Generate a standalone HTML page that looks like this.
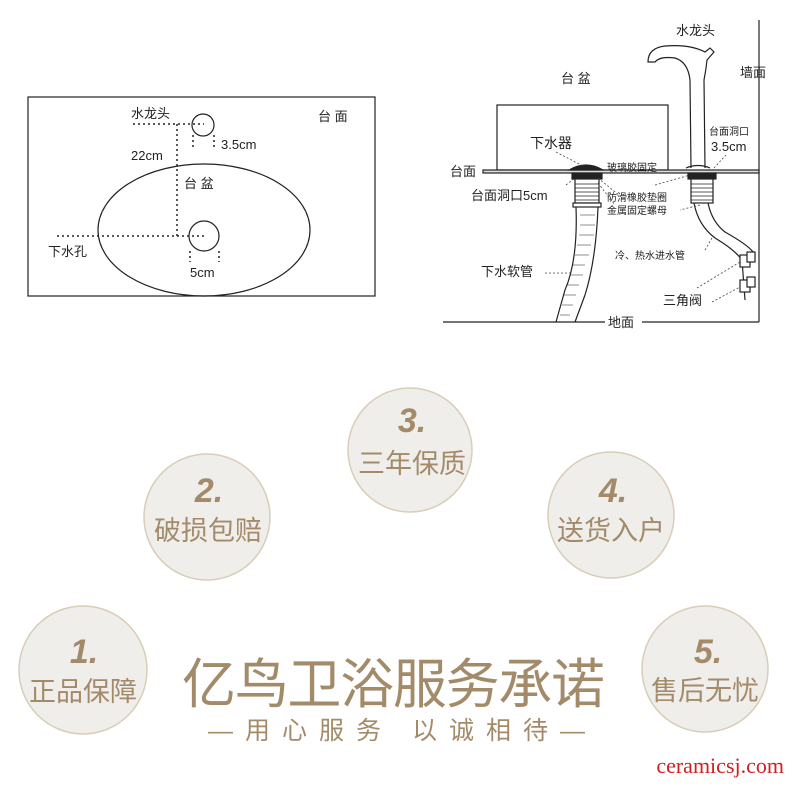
<!DOCTYPE html>
<html><head><meta charset="utf-8"><style>
body{margin:0;background:#fff;}
svg text{font-family:"Liberation Sans","Noto Sans CJK SC",sans-serif;}
</style></head><body>
<svg width="790" height="783" viewBox="0 0 790 783" xmlns="http://www.w3.org/2000/svg">
<!-- left diagram -->
<g fill="none" stroke="#222" stroke-width="1.2">
<rect x="28" y="97" width="347" height="199"/>
<ellipse cx="204" cy="230" rx="106" ry="66"/>
<circle cx="203" cy="125" r="11"/>
<circle cx="204" cy="236" r="15"/>
</g>
<g fill="none" stroke="#222" stroke-width="1.5" stroke-dasharray="2,3">
<line x1="133" y1="124" x2="204" y2="124"/>
<line x1="177" y1="124" x2="177" y2="236"/>
<line x1="57" y1="236" x2="206" y2="236"/>
<line x1="193" y1="135" x2="193" y2="150"/>
<line x1="214" y1="135" x2="214" y2="150"/>
<line x1="190" y1="251" x2="190" y2="262"/>
<line x1="219" y1="251" x2="219" y2="262"/>
</g>
<g font-size="13" fill="#222">
<text x="131" y="118">水龙头</text>
<text x="221" y="149">3.5cm</text>
<text x="131" y="160">22cm</text>
<text x="184" y="188">台 盆</text>
<text x="318" y="121">台 面</text>
<text x="48" y="256">下水孔</text>
<text x="190" y="277">5cm</text>
</g>
<!-- right diagram -->
<g stroke="#222" fill="none" stroke-width="1.2">
<line x1="759" y1="20" x2="759" y2="322"/>
<line x1="443" y1="322" x2="605" y2="322"/>
<line x1="642" y1="322" x2="759" y2="322"/>
<rect x="497" y="105" width="171" height="65"/>
<rect x="483" y="170" width="276" height="3" fill="#ddd"/>
<path d="M569 170 Q586 160 603 170 Z" fill="#222"/>
<rect x="572" y="173" width="30" height="6" fill="#222"/>
<rect x="575" y="179" width="24" height="24" fill="#fff"/>
<path d="M575 184h24M575 188h24M575 192h24M575 196h24M575 200h24" stroke-width="0.7"/>
<rect x="573" y="203" width="28" height="4" fill="#fff"/>
<path d="M576 207 Q578 260 565 290 L556 322 M598 207 Q596 260 585 295 L575 322" />
<path d="M580 215h15M580 225h15M579 235h15M577 245h14M575 255h14M572 265h13M570 275h13M567 285h12M564 295h12M562 305h11M560 315h10" stroke-width="0.5"/>
<path d="M691 168 L690 80 Q688 62 675 58 Q660 56 655 62 L648 62 Q648 48 665 46 Q690 44 705 52 L710 48 L714 52 L707 60 Q706 70 704 80 L705 168" fill="#fff"/>
<path d="M686 168 Q698 163 710 168" />
<rect x="688" y="173" width="28" height="6" fill="#222"/>
<rect x="691" y="179" width="22" height="24" fill="#fff"/>
<path d="M691 184h22M691 188h22M691 192h22M691 196h22M691 200h22" stroke-width="0.7"/>
<path d="M694 203 Q698 225 715 238 Q735 250 742 260 L745 300 M708 203 Q712 222 725 232 Q748 245 753 252" />
<rect x="740" y="255" width="10" height="12" fill="#fff"/>
<rect x="747" y="252" width="8" height="10" fill="#fff"/>
<rect x="740" y="280" width="10" height="12" fill="#fff"/>
<rect x="747" y="277" width="8" height="10" fill="#fff"/>
</g>
<g stroke="#444" stroke-width="0.8" stroke-dasharray="2,2" fill="none">
<line x1="556" y1="152" x2="583" y2="166"/>
<line x1="566" y1="185" x2="575" y2="178"/>
<line x1="598" y1="178" x2="620" y2="196"/>
<line x1="598" y1="183" x2="615" y2="205"/>
<line x1="655" y1="185" x2="690" y2="175"/>
<line x1="700" y1="205" x2="680" y2="210"/>
<line x1="714" y1="168" x2="726" y2="155"/>
<line x1="545" y1="273" x2="573" y2="273"/>
<line x1="705" y1="250" x2="712" y2="238"/>
<line x1="697" y1="288" x2="740" y2="262"/>
<line x1="712" y1="302" x2="740" y2="287"/>
</g>
<g font-size="13" fill="#222">
<text x="676" y="35">水龙头</text>
<text x="740" y="77">墙面</text>
<text x="561" y="83">台  盆</text>
<text x="530" y="148" font-size="14">下水器</text>
<text x="709" y="135" font-size="10">台面洞口</text>
<text x="711" y="151">3.5cm</text>
<text x="450" y="176">台面</text>
<text x="607" y="171" font-size="10">玻璃胶固定</text>
<text x="471" y="200">台面洞口5cm</text>
<text x="607" y="201" font-size="10">防滑橡胶垫圈</text>
<text x="607" y="214" font-size="10">金属固定螺母</text>
<text x="615" y="259" font-size="10">冷、热水进水管</text>
<text x="481" y="276">下水软管</text>
<text x="663" y="305">三角阀</text>
<text x="608" y="327">地面</text>
</g>
<!-- circles -->
<g fill="#f0eeeb" stroke="#d9cdb9" stroke-width="1.5">
<circle cx="410" cy="450" r="62"/>
<circle cx="207" cy="517" r="63"/>
<circle cx="611" cy="515" r="63"/>
<circle cx="83" cy="670" r="64"/>
<circle cx="705" cy="669" r="63"/>
</g>
<g fill="#a38b6a" text-anchor="middle">
<g font-size="34" font-weight="bold" font-style="italic">
<text x="412" y="432">3.</text>
<text x="209" y="502">2.</text>
<text x="613" y="502">4.</text>
<text x="84" y="663">1.</text>
<text x="708" y="663">5.</text>
</g>
<g font-size="27">
<text x="412" y="473">三年保质</text>
<text x="208" y="540">破损包赔</text>
<text x="611" y="540">送货入户</text>
<text x="83" y="701">正品保障</text>
<text x="705" y="700">售后无忧</text>
</g>
</g>
<g fill="#a38b6a">
<text x="182" y="703" font-size="54" textLength="423" lengthAdjust="spacing">亿鸟卫浴服务承诺</text>
<text x="208" y="739" font-size="25" textLength="377" lengthAdjust="spacing">—用心服务 以诚相待—</text>
</g>
<text x="784" y="773" text-anchor="end" font-size="22" fill="#d02020" style="font-family:'Liberation Serif',serif">ceramicsj.com</text>
</svg>
</body></html>
